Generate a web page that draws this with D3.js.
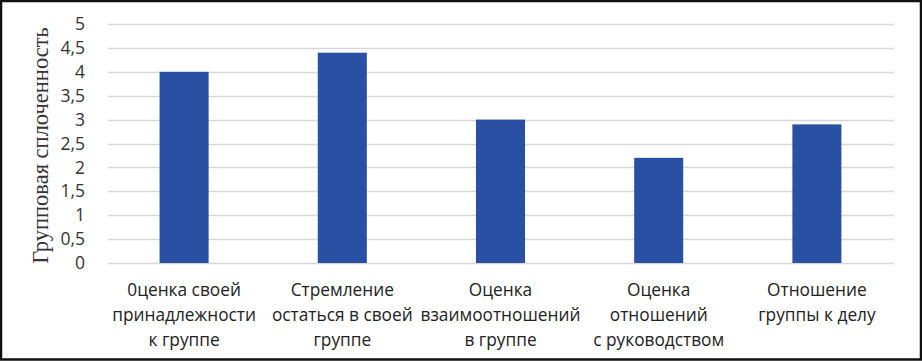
<!DOCTYPE html>
<html>
<head>
<meta charset="utf-8">
<script src="https://cdn.jsdelivr.net/npm/d3@7"></script>
<style>
  body { margin: 0; background: #fff; }
  svg { display: block; }
</style>
</head>
<body>
<svg id="chart" width="922" height="361"></svg>
<script>
// categories (multi-line labels) and values
var categories = [
  ["0ценка своей", "принадлежности", "к группе"],
  ["Стремление", "остаться в своей", "группе"],
  ["Оценка", "взаимоотношений", "в группе"],
  ["Оценка", "отношений", "с руководством"],
  ["Отношение", "группы к делу"]
];
var values = [4, 4.4, 3, 2.2, 2.9];
var yTicks = [0, 0.5, 1, 1.5, 2, 2.5, 3, 3.5, 4, 4.5, 5];
var yTitle = "Групповая сплоченность";

var svg = d3.select("#chart");
var W = 922, H = 361;
var margin = {top: 24, right: 26, bottom: 98, left: 105},
    width = W - margin.left - margin.right,
    height = H - margin.top - margin.bottom;

// outer frame
svg.append("rect")
  .attr("x", 1).attr("y", 1)
  .attr("width", W - 2).attr("height", H - 2.5)
  .attr("fill", "#fff")
  .attr("stroke", "#111")
  .attr("stroke-width", 2.5);

var g = svg.append("g")
  .attr("transform", "translate(" + margin.left + "," + margin.top + ")");

var x = d3.scaleBand()
  .domain(d3.range(categories.length))
  .range([0, width])
  .paddingInner(0.69)
  .paddingOuter(0.345);

var y = d3.scaleLinear()
  .domain([0, 5])
  .range([height, 0]);

// gridlines
g.append("g")
  .selectAll("line")
  .data(yTicks)
  .enter().append("line")
  .attr("x1", 3).attr("x2", width - 2)
  .attr("y1", function(d) { return Math.round(y(d)) + 0.5; })
  .attr("y2", function(d) { return Math.round(y(d)) + 0.5; })
  .attr("stroke", "#d6d6d6")
  .attr("stroke-width", 1.5);

// y axis labels
var yAxis = d3.axisLeft(y)
  .tickValues(yTicks)
  .tickSize(0)
  .tickPadding(20)
  .tickFormat(function(d) { return String(d).replace(".", ","); });

var yg = g.append("g").call(yAxis);
yg.select(".domain").remove();
yg.selectAll("text")
  .attr("font-family", "'Open Sans', sans-serif")
  .attr("font-size", 17.5)
  .attr("fill", "#333");

// bars
g.selectAll(".bar")
  .data(values)
  .enter().append("rect")
  .attr("class", "bar")
  .attr("x", function(d, i) { return x(i); })
  .attr("width", x.bandwidth())
  .attr("y", function(d) { return y(d); })
  .attr("height", function(d) { return height - y(d); })
  .attr("fill", "#2a50a4");

// x labels
var xl = g.append("g")
  .selectAll("text")
  .data(categories)
  .enter().append("text")
  .attr("x", function(d, i) { return x(i) + x.bandwidth() / 2; })
  .attr("y", height + 33)
  .attr("text-anchor", "middle")
  .attr("font-family", "'Open Sans', sans-serif")
  .attr("font-size", 17.3)
  .attr("fill", "#222");

xl.each(function(lines) {
  var t = d3.select(this);
  lines.forEach(function(s, j) {
    t.append("tspan")
      .attr("x", t.attr("x"))
      .attr("dy", j === 0 ? 0 : 25)
      .text(s);
  });
});

// y title
svg.append("text")
  .attr("transform", "translate(48," + (margin.top + height / 2 + 2) + ") rotate(-90)")
  .attr("text-anchor", "middle")
  .attr("font-family", "'Liberation Serif', 'Times New Roman', serif")
  .attr("font-size", 22.5)
  .attr("fill", "#333")
  .text(yTitle);
</script>
</body>
</html>
